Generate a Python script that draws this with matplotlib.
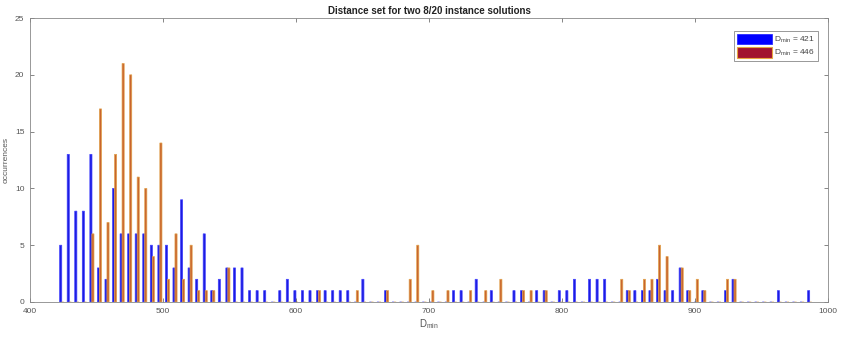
"""Distance-set histogram of two 8/20 instance solutions (MATLAB-style grouped bars)."""

import matplotlib
matplotlib.use("Agg")
import matplotlib.pyplot as plt
import numpy as np
from matplotlib.patches import Patch

plt.rcParams["font.family"] = ["Liberation Sans", "DejaVu Sans"]
plt.rcParams["mathtext.default"] = "regular"

# histogram range (min / max distance over both solutions), 100 bins
d_lo = 421
d_hi = 989
n_bins = 100

labels = ["D$_{min}$ = 421", "D$_{min}$ = 446"]

counts_421 = [
    5, 13, 8, 8, 13, 3, 2, 10, 6, 6, 6, 6, 5, 5, 5, 3, 9, 3, 2, 6,
    1, 2, 3, 3, 3, 1, 1, 1, 0, 1, 2, 1, 1, 1, 1, 1, 1, 1, 1, 0,
    2, 0, 0, 1, 0, 0, 0, 0, 0, 0, 0, 0, 1, 1, 0, 2, 0, 1, 0, 0,
    1, 1, 0, 1, 1, 0, 1, 1, 2, 0, 2, 2, 2, 0, 0, 1, 1, 1, 1, 2,
    1, 1, 3, 1, 0, 1, 0, 0, 1, 2, 0, 0, 0, 0, 0, 1, 0, 0, 0, 1,
]

counts_446 = [
    0, 0, 0, 0, 6, 17, 7, 13, 21, 20, 11, 10, 4, 14, 2, 6, 2, 5, 1, 1,
    1, 0, 3, 0, 0, 0, 0, 0, 0, 0, 0, 0, 0, 0, 1, 0, 0, 0, 0, 1,
    0, 0, 0, 1, 0, 0, 2, 5, 0, 1, 0, 1, 0, 0, 1, 0, 1, 0, 2, 0,
    0, 1, 1, 0, 1, 0, 0, 0, 0, 0, 0, 0, 0, 0, 2, 1, 0, 2, 2, 5,
    4, 0, 3, 1, 2, 1, 0, 0, 2, 2, 0, 0, 0, 0, 0, 0, 0, 0, 0, 0,
]

x_ticks = [400, 500, 600, 700, 800, 900, 1000]
y_ticks = [0, 5, 10, 15, 20, 25]


def main() -> None:
    edges = np.linspace(d_lo, d_hi, n_bins + 1)
    centers = (edges[:-1] + edges[1:]) / 2

    fig = plt.figure(figsize=(8.47, 3.47), dpi=100)
    ax = fig.add_axes([0.0354, 0.1297, 0.9422, 0.8183])

    off = 0.75
    ax.bar(centers - off, counts_421, width=1.6, color="#1c1ce0",
           edgecolor="#4040ff", linewidth=0.5, snap=False)
    ax.bar(centers + off, counts_446, width=1.6, color="#c8642e",
           edgecolor="#e2a24a", linewidth=0.5, snap=False)

    ax.set_xlim(400, 1000)
    ax.set_ylim(0, 25)
    ax.set_xticks(x_ticks)
    ax.set_yticks(y_ticks)
    ax.tick_params(direction="in", length=3, width=0.5, labelsize=6,
                   colors="#555555", top=True, right=True, pad=4)
    for s in ax.spines.values():
        s.set_color("#888888")
        s.set_linewidth(0.6)

    ax.set_title("Distance set for two 8/20 instance solutions",
                 fontsize=7, fontweight="bold", pad=3, color="#222222")
    ax.set_xlabel("D$_{min}$", fontsize=7, color="#555555", labelpad=2)
    ax.set_ylabel("occurrences", fontsize=6, color="#555555", labelpad=4)

    handles = [
        Patch(facecolor="#0000ff", edgecolor="#2a2aff", linewidth=0.6),
        Patch(facecolor="#a2142f", edgecolor="#e6a640", linewidth=0.8),
    ]
    leg = ax.legend(handles, labels, loc="upper right",
                    bbox_to_anchor=(0.993, 0.97), fontsize=6,
                    handlelength=4.2, handleheight=1.6, handletextpad=0.3,
                    borderpad=0.35, labelspacing=0.25, fancybox=False,
                    framealpha=1)
    leg.get_frame().set_edgecolor("#888888")
    leg.get_frame().set_linewidth(0.6)
    for t in leg.get_texts():
        t.set_color("#444444")

    fig.savefig("out.png", dpi=100)
    plt.close(fig)


if __name__ == "__main__":
    main()
